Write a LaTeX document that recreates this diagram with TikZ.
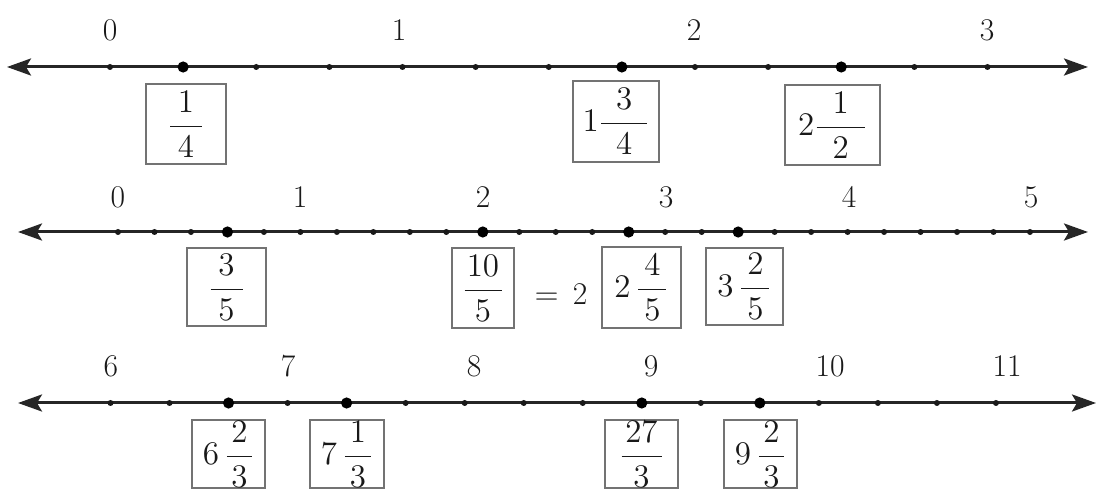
\RequirePackage{fix-cm}
\documentclass[tikz,border=0pt]{standalone}
\usepackage{amsmath}
\usetikzlibrary{arrows.meta}
\newcommand{\bfr}[3]{\dfrac{\makebox[#1]{$#2$}}{#3}}
\begin{document}
\begin{tikzpicture}[x=0.5pt,y=-0.5pt,
  axis/.style={line width=1.5pt, draw=black!85,
    {Stealth[length=12pt,width=8.5pt,inset=2.5pt]}-{Stealth[length=12pt,width=8.5pt,inset=2.5pt]}},
  tickdot/.style={circle, fill=black!90, inner sep=0pt, minimum size=3pt},
  bigdot/.style={circle, fill=black, inner sep=0pt, minimum size=5.6pt},
  num/.style={font=\fontsize{15.8}{18}\selectfont, text=black!90, inner sep=0pt},
  fbox/.style={draw=black!55, line width=0.75pt, font=\fontsize{16.5}{19}\selectfont,
    text=black!90, inner sep=0pt}
]
\useasboundingbox (0,0) rectangle (1097,491);

% ---------- line 1 ----------
\coordinate (l1a) at (7,67);
\coordinate (l1b) at (1088,67);
\draw[axis] (l1a) -- (l1b);
\foreach \i in {0,...,12} \node[tickdot] (t1-\i) at ({110+\i*73.125},67) {};
\node[bigdot] (d1a) at (t1-1) {};
\node[bigdot] (d1b) at (t1-7) {};
\node[bigdot] (d1c) at (t1-10) {};
\node[num] (n1-0) at (110,30) {0};
\node[num] (n1-1) at (399,30) {1};
\node[num] (n1-2) at (694,30) {2};
\node[num] (n1-3) at (987,30) {3};
\node[fbox, minimum width=40pt, minimum height=40pt] (b1a) at (186,124) {$\bfr{16pt}{1}{4}$};
\node[fbox, minimum width=43pt, minimum height=40.5pt] (b1b) at (616,121.5) {$1\bfr{23pt}{3}{4}$};
\node[fbox, minimum width=47.5pt, minimum height=40pt] (b1c) at (832.5,125) {$2\bfr{24pt}{1}{2}$};

% ---------- line 2 ----------
\coordinate (l2a) at (18,232);
\coordinate (l2b) at (1088,232);
\draw[axis] (l2a) -- (l2b);
\foreach \i in {0,...,25} \node[tickdot] (t2-\i) at ({118+\i*36.48},232) {};
\node[bigdot] (d2a) at (t2-3) {};
\node[bigdot] (d2b) at (t2-10) {};
\node[bigdot] (d2c) at (t2-14) {};
\node[bigdot] (d2d) at (t2-17) {};
\node[num] (n2-0) at (118,197) {0};
\node[num] (n2-1) at (300,197) {1};
\node[num] (n2-2) at (483,197) {2};
\node[num] (n2-3) at (666,197) {3};
\node[num] (n2-4) at (849,197) {4};
\node[num] (n2-5) at (1031,197) {5};
\node[fbox, minimum width=39.5pt, minimum height=39pt] (b2a) at (226.5,287) {$\bfr{16pt}{3}{5}$};
\node[fbox, minimum width=31pt, minimum height=40pt] (b2b) at (483,288) {$\bfr{18.5pt}{10}{5}$};
\node[num, anchor=base] (eq2) at (561,305) {$=$\hspace{7pt}2};
\node[fbox, minimum width=39.5pt, minimum height=40.5pt] (b2c) at (641.5,287.5) {$2\,\bfr{14pt}{4}{5}$};
\node[fbox, minimum width=38.5pt, minimum height=38.5pt] (b2d) at (744.5,286.5) {$3\,\bfr{14pt}{2}{5}$};

% ---------- line 3 ----------
\coordinate (l3a) at (18,403);
\coordinate (l3b) at (1096,403);
\draw[axis] (l3a) -- (l3b);
\foreach \i in {0,...,15} \node[tickdot] (t3-\i) at ({110.5+\i*59.03},403) {};
\node[bigdot] (d3a) at (t3-2) {};
\node[bigdot] (d3b) at (t3-4) {};
\node[bigdot] (d3c) at (t3-9) {};
\node[bigdot] (d3d) at (t3-11) {};
\node[num] (n3-6) at (111,366) {6};
\node[num] (n3-7) at (288,366) {7};
\node[num] (n3-8) at (474,366) {8};
\node[num] (n3-9) at (651,366) {9};
\node[num] (n3-10) at (830,366) {10};
\node[num] (n3-11) at (1007,366) {11};
\node[fbox, minimum width=36.5pt, minimum height=34pt] (b3a) at (228.5,454) {$6\,\bfr{12.5pt}{2}{3}$};
\node[fbox, minimum width=37pt, minimum height=34pt] (b3b) at (347,454) {$7\,\bfr{13pt}{1}{3}$};
\node[fbox, minimum width=36.5pt, minimum height=34pt] (b3c) at (641.5,454) {$\bfr{20pt}{27}{3}$};
\node[fbox, minimum width=36.5pt, minimum height=34pt] (b3d) at (760.5,454) {$9\,\bfr{12.5pt}{2}{3}$};
\end{tikzpicture}
\end{document}
